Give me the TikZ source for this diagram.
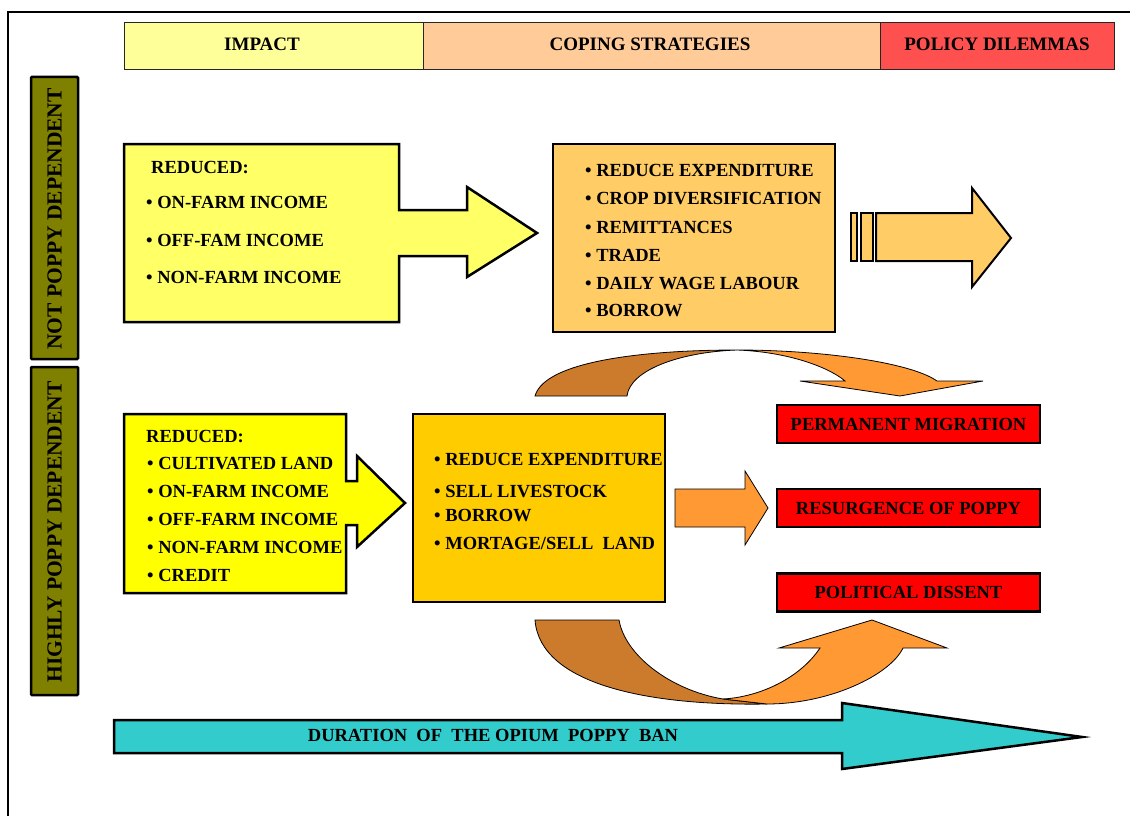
\documentclass[tikz,border=0pt]{standalone}
\usepackage{fontspec}
\setmainfont{Liberation Serif}
\definecolor{impactc}{HTML}{FFFF99}
\definecolor{copingc}{HTML}{FFCC99}
\definecolor{policyc}{HTML}{FF5050}
\definecolor{olivec}{HTML}{808000}
\definecolor{yelone}{HTML}{FFFF66}
\definecolor{copone}{HTML}{FFCC66}
\definecolor{yeltwo}{HTML}{FFFF00}
\definecolor{coptwo}{HTML}{FFCC00}
\definecolor{orangec}{HTML}{FF9933}
\definecolor{brownc}{HTML}{CC7A2B}
\definecolor{redc}{HTML}{FF0000}
\definecolor{tealc}{HTML}{33CCCC}
\begin{document}
\begin{tikzpicture}[x=1pt,y=-1pt,
  bodyfont/.style={font=\bfseries\fontsize{18.5}{20}\selectfont},
  thickline/.style={draw=black, line width=2.5pt, line join=miter},
  hdrbox/.style={draw=black!85, line width=1pt, rectangle, inner sep=0pt},
  txt/.style={bodyfont, anchor=base west, inner sep=0pt},
  ctxt/.style={bodyfont, anchor=base, inner sep=0pt},
  sidebar/.style={thickline, fill=olivec, rectangle, inner sep=0pt, minimum width=47pt, rounded corners=1pt},
  sidetxt/.style={font=\bfseries\fontsize{21.5}{23}\selectfont, rotate=90, inner sep=0pt},
  boxnode/.style={thickline, rectangle, inner sep=0pt},
  redbox/.style={thickline, fill=redc, rectangle, inner sep=0pt, minimum width=263pt, minimum height=38pt, bodyfont},
  curv/.style={draw=black, line width=0.8pt, line join=miter}
]
\useasboundingbox (0,0) rectangle (1130,816);
\fill[white] (0,0) rectangle (1130,816);

% outer frame
\draw[line width=1.8pt] (8,830) -- (8,12) -- (1140,12);

% header boxes
\node[hdrbox, fill=impactc, minimum width=299pt, minimum height=47pt] (himpact) at (273.5,46.5) {};
\node[hdrbox, fill=copingc, minimum width=457pt, minimum height=47pt] (hcoping) at (651.5,46.5) {};
\node[hdrbox, fill=policyc, minimum width=234pt, minimum height=47pt] (hpolicy) at (997,46.5) {};
\node[ctxt, font=\bfseries\fontsize{19}{20}\selectfont] (timpact) at (262,51) {IMPACT};
\node[ctxt, font=\bfseries\fontsize{19}{20}\selectfont] (tcoping) at (650,51) {COPING STRATEGIES};
\node[ctxt, font=\bfseries\fontsize{19}{20}\selectfont] (tpolicy) at (997,51) {POLICY DILEMMAS};

% side bars
\node[sidebar, minimum height=282pt] (barnot) at (54.5,218) {};
\node[sidetxt] (tnot) at (54.5,219) {NOT POPPY DEPENDENT};
\node[sidebar, minimum height=328pt] (barhigh) at (54.5,531) {};
\node[sidetxt] (thigh) at (54.5,532) {HIGHLY POPPY DEPENDENT};

% ---------- top row ----------
\draw[thickline, fill=yelone] (124,144) -- (399,144) -- (399,210) -- (467,210) -- (467,187) -- (537,233)
  -- (467,277) -- (467,256) -- (399,256) -- (399,322) -- (124,322) -- cycle;
\node[txt] (r1) at (151,173) {REDUCED:};
\node[txt] (r1a) at (146,208) {\textbullet\ ON-FARM INCOME};
\node[txt] (r1b) at (146,246) {\textbullet\ OFF-FAM INCOME};
\node[txt] (r1c) at (146,283) {\textbullet\ NON-FARM INCOME};

\node[boxnode, fill=copone, minimum width=282pt, minimum height=188pt] (cope1) at (694,238) {};
\node[txt] (c1a) at (585,176) {\textbullet\ REDUCE EXPENDITURE};
\node[txt] (c1b) at (585,204) {\textbullet\ CROP DIVERSIFICATION};
\node[txt] (c1c) at (585,233) {\textbullet\ REMITTANCES};
\node[txt] (c1d) at (585,261) {\textbullet\ TRADE};
\node[txt] (c1e) at (585,289) {\textbullet\ DAILY WAGE LABOUR};
\node[txt] (c1f) at (585,316) {\textbullet\ BORROW};

% striped arrow
\begin{scope}[line width=2pt, draw=black, line join=miter]
\draw[fill=copone] (851,213) rectangle (857,261);
\draw[fill=copone] (861,213) rectangle (873,261);
\draw[fill=copone] (876,213) -- (972,213) -- (972,188) -- (1011,238) -- (972,287) -- (972,261) -- (876,261) -- cycle;
\end{scope}

% ---------- bottom row ----------
\draw[thickline, fill=yeltwo] (124,414) -- (346,414) -- (346,481) -- (357,481) -- (357,456) -- (405,503)
  -- (357,547) -- (357,525) -- (346,525) -- (346,593) -- (124,593) -- cycle;
\node[txt] (r2) at (146,442) {REDUCED:};
\node[txt] (r2a) at (147,469) {\textbullet\ CULTIVATED LAND};
\node[txt] (r2b) at (147,497) {\textbullet\ ON-FARM INCOME};
\node[txt] (r2c) at (147,525) {\textbullet\ OFF-FARM INCOME};
\node[txt] (r2d) at (147,553) {\textbullet\ NON-FARM INCOME};
\node[txt] (r2e) at (147,581) {\textbullet\ CREDIT};

\node[boxnode, fill=coptwo, minimum width=252pt, minimum height=188pt] (cope2) at (539,508) {};
\node[txt] (c2a) at (434,465) {\textbullet\ REDUCE EXPENDITURE};
\node[txt] (c2b) at (434,497) {\textbullet\ SELL LIVESTOCK};
\node[txt] (c2c) at (434,521) {\textbullet\ BORROW};
\node[txt] (c2d) at (434,549) {\textbullet\ MORTAGE/SELL\ \ LAND};

% middle orange arrow
\draw[curv, fill=orangec] (675,489) -- (745,489) -- (745,471) -- (768,508) -- (745,545) -- (745,527) -- (675,527) -- cycle;

% red boxes
\node[redbox] (pm) at (908.5,424) {PERMANENT MIGRATION};
\node[redbox] (rp) at (908.5,508) {RESURGENCE OF POPPY};
\node[redbox] (pd) at (908.5,592.5) {POLITICAL DISSENT};

% top curved arrow
\draw[curv, fill=brownc] (535,396) .. controls (545,360) and (650,350) .. (737,350)
  .. controls (680,352) and (630,370) .. (627,396) -- cycle;
\draw[curv, fill=orangec] (737,350) .. controls (820,350) and (910,362) .. (937,381) -- (983,381) -- (900,396)
  -- (800,381) -- (845,381) .. controls (830,368) and (790,352) .. (737,350) -- cycle;

% bottom curved arrow
\draw[curv, fill=brownc] (535,620) -- (619,620) .. controls (625,655) and (670,690) .. (723,699) -- (767,704)
  .. controls (650,706) and (540,685) .. (535,620) -- cycle;
\draw[curv, fill=orangec] (723,699) -- (767,704) .. controls (830,704) and (890,675) .. (903,648) -- (947,648)
  -- (872,620) -- (779,648) -- (820,648) .. controls (800,678) and (760,697) .. (723,699) -- cycle;

% duration arrow
\draw[thickline, fill=tealc] (114,720) -- (842,720) -- (842,703) -- (1082,737) -- (842,769) -- (842,753) -- (114,753) -- cycle;
\node[ctxt] (tdur) at (493,741) {DURATION\ \ OF\ \ THE OPIUM\ \ POPPY\ \ BAN};
\end{tikzpicture}
\end{document}
